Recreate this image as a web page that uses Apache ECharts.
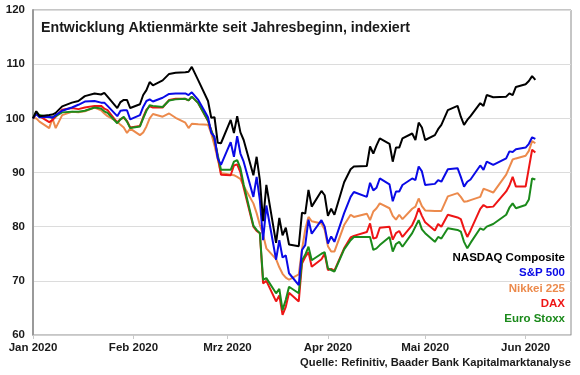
<!DOCTYPE html>
<html>
<head>
<meta charset="utf-8">
<script src="https://cdn.jsdelivr.net/npm/echarts@6/dist/echarts.min.js"></script>
<style>html,body{margin:0;padding:0;background:#fff}#c{width:580px;height:375px}</style>
</head>
<body>
<div id="c"></div>
<script>
// ---- data (index, start of year = 100) ----
const dates = [
 '01-01','01-02','01-03','01-06','01-07','01-08','01-10','01-13','01-15','01-17','01-20','01-22','01-23','01-24','01-27','01-28','01-29','01-30','01-31',
 '02-03','02-04','02-05','02-06','02-07','02-10','02-12','02-14','02-17','02-18','02-19','02-21','02-24','02-25','02-26','02-27','02-28',
 '03-02','03-03','03-04','03-05','03-06','03-09','03-10','03-11','03-12','03-13','03-16','03-17','03-18','03-19','03-20','03-23','03-24','03-25','03-26','03-27','03-30','03-31',
 '04-01','04-02','04-03','04-06','04-08','04-09','04-13','04-14','04-15','04-16','04-17','04-20','04-21','04-22','04-23','04-24','04-27','04-28','04-29','04-30',
 '05-01','05-04','05-05','05-06','05-08','05-11','05-12','05-13','05-14','05-15','05-18','05-19','05-20','05-22','05-26','05-27','05-28','05-29',
 '06-01','06-02','06-03','06-04'
];
const nasdaq = [
 100,101.3,100.4,100.6,100.7,101.0,102.2,102.9,103.2,104.1,104.6,104.4,104.7,104.0,101.9,103.0,103.4,103.4,101.9,
 102.6,104.3,105.2,106.7,106.1,107.0,108.2,108.4,108.5,108.6,109.5,107.0,103.2,100.1,100.2,95.5,95.4,
 99.7,97.3,100.4,97.4,96.0,89.5,92.9,88.6,81.0,87.7,77.0,81.6,78.4,79.8,76.7,76.4,82.6,82.4,86.8,83.7,86.6,85.8,
 82.0,83.3,82.2,88.2,90.6,91.1,91.2,94.8,93.5,95.0,96.3,95.3,92.0,94.6,94.6,96.3,97.2,96.0,99.2,98.3,
 96.0,96.9,98.0,98.8,101.5,102.3,100.3,98.8,99.7,100.4,102.8,102.3,104.3,103.9,104.0,104.6,104.3,105.8,
 106.3,106.9,107.8,107.1
];
const sp500 = [
 100,100.8,100.2,100.3,100.1,100.6,101.4,102.0,102.5,103.1,103.2,102.9,102.9,102.3,100.4,101.4,101.5,101.5,99.8,
 100.6,102.1,103.2,103.5,103.1,103.8,104.5,104.6,104.6,104.3,104.8,103.4,100.2,97.3,96.6,92.6,91.4,
 95.6,92.9,96.7,93.5,92.0,85.5,89.2,84.9,77.5,83.9,73.9,77.5,74.3,74.7,71.4,69.2,75.7,76.6,81.3,78.7,81.2,80.0,
 76.9,78.2,77.2,82.5,85.5,86.4,85.5,88.1,86.7,87.2,88.9,87.8,84.7,86.5,86.5,87.7,88.9,88.6,91.1,90.2,
 87.7,87.9,88.6,88.3,90.6,90.8,89.2,87.4,88.3,88.7,91.3,90.5,92.0,91.4,92.6,93.9,93.8,94.3,
 94.6,95.3,96.5,96.2
];
const nikkei = [
 100,100,99.4,98.2,100.0,98.2,100.6,101.2,101.1,101.3,102.0,101.5,100.9,100.4,99.4,98.8,98.3,97.3,98.1,
 96.9,97.4,98.5,100.0,100.8,100.3,100.9,100.1,99.2,98.2,99.0,98.9,98.8,97.2,95.0,92.5,89.9,
 89.6,89.5,89.2,88.8,87.5,84.3,82.5,80.3,78.5,76.0,74.0,72.5,71.3,70.6,70.2,71.2,75.8,79.5,81.8,81.0,80.6,79.4,
 76.4,75.4,75.4,80.3,82.2,81.8,82.4,81.2,82.8,83.4,84.3,83.4,82.0,81.3,82.2,81.4,83.3,83.7,85.2,83.8,
 83.0,82.9,82.9,82.9,85.6,86.2,85.5,84.6,84.7,84.9,85.5,87.0,86.8,86.3,89.6,91.0,92.4,92.6,
 93.1,94.0,95.8,95.4
];
const dax = [
 100,100.9,100.4,99.3,99.7,100.3,101.6,101.9,101.7,102.0,102.3,102.3,101.8,101.5,99.2,99.9,100.1,99.5,98.3,
 98.6,100.2,101.6,102.2,102.0,102.0,103.4,103.6,103.6,103.3,104.0,102.8,99.5,97.8,96.0,93.0,89.6,
 89.5,91.3,91.5,90.0,87.2,80.0,79.2,78.8,69.5,70.0,66.2,67.3,63.7,65.2,67.8,66.2,73.2,74.4,75.3,72.6,74.0,75.0,
 72.0,72.2,71.9,76.0,78.0,78.3,79.0,80.6,77.8,78.0,79.8,80.0,77.6,78.8,79.2,78.1,80.3,81.6,83.4,82.0,
 80.8,79.3,80.5,80.0,82.2,81.7,81.4,79.6,78.1,79.3,83.3,84.0,83.6,83.7,86.5,87.6,89.2,87.4,
 87.4,90.8,94.2,93.7
];
const eurostoxx = [
 100,101.2,100.6,100.2,100.2,100.4,101.1,101.2,101.2,101.4,102.0,101.8,101.3,101.0,99.1,99.8,100.3,99.4,98.2,
 98.5,100.0,101.4,102.4,102.3,102.1,103.3,103.5,103.6,103.3,104.0,102.8,99.6,97.8,96.2,93.2,90.5,
 90.5,92.0,92.3,90.8,87.8,80.2,79.4,78.8,70.2,70.5,67.7,68.5,64.6,66.5,68.9,67.7,73.8,74.8,76.3,73.8,75.0,75.3,
 72.3,72.0,71.7,75.8,77.5,78.1,78.1,78.1,75.7,76.0,76.6,78.1,75.4,76.8,77.2,76.3,78.8,80.0,81.2,79.5,
 78.8,77.2,78.1,77.8,79.7,79.4,79.1,77.2,76.0,77.0,79.7,79.4,80.0,80.5,82.2,83.5,84.3,83.4,
 84.0,85.0,88.9,88.7
];
const seriesNames = ['NASDAQ Composite','S&P 500','Nikkei 225','DAX','Euro Stoxx'];
const seriesColors = ['#000000','#0a0ae6','#ec8a4c','#ee1515','#1b8a1b'];
const tickDates = ['01-01','02-01','03-01','04-01','05-01','06-01'];
const tickLabels = ['Jan 2020','Feb 2020','Mrz 2020','Apr 2020','Mai 2020','Jun 2020'];
const axisEnd = '06-15';
const titleText = 'Entwicklung Aktienmärkte seit Jahresbeginn, indexiert';
const sourceText = 'Quelle: Refinitiv, Baader Bank Kapitalmarktanalyse';

// ---- helpers ----
function dayOf(md){
  const [m,d] = md.split('-').map(Number);
  return (Date.UTC(2020,m-1,d) - Date.UTC(2020,0,1)) / 864e5;
}
const xs = dates.map(dayOf);
const tickDays = tickDates.map(dayOf);
const valuesBySeries = [nasdaq, sp500, nikkei, dax, eurostoxx];
const FONT = '"Liberation Sans", Arial, sans-serif';

const drawOrder = [2,3,4,1,0]; // Nikkei, DAX, Euro Stoxx, S&P, NASDAQ on top
const series = drawOrder.map(i => ({
  name: seriesNames[i],
  type: 'line',
  data: xs.map((x,k) => [x, valuesBySeries[i][k]]),
  showSymbol: false,
  symbol: 'none',
  lineStyle: {color: seriesColors[i], width: 2},
  itemStyle: {color: seriesColors[i]},
  animation: false,
  z: 2
}));

const legendTexts = seriesNames.map((n,i) => ({
  type: 'text',
  right: 15,
  top: 252 + i*15.3,
  style: {text: n, fill: seriesColors[i], font: 'bold 11.5px ' + FONT, textAlign: 'right'}
}));

const chart = echarts.init(document.getElementById('c'), null, {renderer: 'canvas'});
chart.setOption({
  backgroundColor: '#ffffff',
  animation: false,
  title: {
    text: titleText, left: 36, top: 16, padding: 5,
    textStyle: {fontFamily: FONT, fontSize: 14.2, fontWeight: 'bold', color: '#1a1a1a'}
  },
  grid: {left: 33, right: 9, top: 10, bottom: 40, show: true, borderColor: '#8c8c8c', borderWidth: 1, backgroundColor: 'transparent'},
  xAxis: {
    type: 'value', min: 0, max: dayOf(axisEnd),
    axisLine: {show: true, lineStyle: {color: '#d0d0d0', width: 1}},
    axisTick: {show: true, customValues: tickDays, length: 4, lineStyle: {color: '#c8c8c8'}},
    axisLabel: {
      customValues: tickDays,
      formatter: v => tickLabels[tickDays.indexOf(v)] || '',
      fontFamily: FONT, fontSize: 11.5, fontWeight: 'bold', color: '#1a1a1a', margin: 7
    },
    splitLine: {show: false}
  },
  yAxis: {
    type: 'value', min: 60, max: 120, interval: 10,
    axisLine: {show: true, lineStyle: {color: '#9a9a9a', width: 2}},
    axisTick: {show: false},
    axisLabel: {fontFamily: FONT, fontSize: 11.5, fontWeight: 'bold', color: '#1a1a1a', margin: 8},
    splitLine: {show: true, lineStyle: {color: '#dcdcdc', width: 1}}
  },
  series: series,
  graphic: legendTexts.concat([{
    type: 'text', right: 9, top: 357,
    style: {text: sourceText, fill: '#1a1a1a', font: 'bold 11.2px ' + FONT, textAlign: 'right'}
  }])
});
</script>
</body>
</html>
